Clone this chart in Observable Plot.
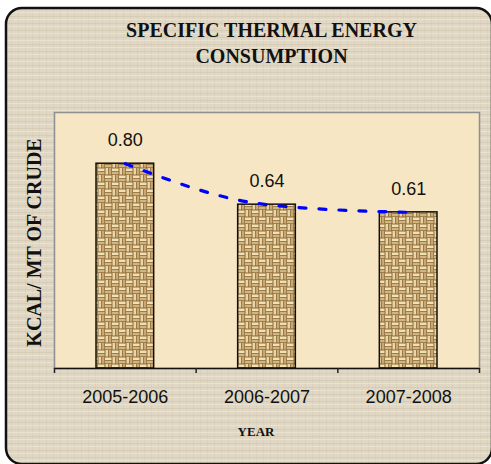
<!DOCTYPE html>
<html>
<head>
<meta charset="utf-8">
<script src="https://cdn.jsdelivr.net/npm/d3@7"></script>
<script src="https://cdn.jsdelivr.net/npm/@observablehq/plot@0.6"></script>
<style>
  body { margin: 0; background: #ffffff; }
</style>
</head>
<body>
<div id="chart"></div>
<script>
const years = ["2005-2006", "2006-2007", "2007-2008"];
const values = [0.80, 0.64, 0.61];
const titleLines = ["SPECIFIC THERMAL ENERGY", "CONSUMPTION"];
const yLabel = "KCAL/ MT OF CRUDE";
const xLabel = "YEAR";

const data = years.map((year, i) => ({i, year, value: values[i]}));

const serif = "'Liberation Serif', 'DejaVu Serif', serif";
const sans = "'Liberation Sans', Arial, sans-serif";

const chart = Plot.plot({
  width: 491,
  height: 464,
  marginTop: 112,
  marginBottom: 96,
  marginLeft: 54,
  marginRight: 12,
  style: {background: "transparent", overflow: "visible"},
  x: {type: "linear", domain: [0, 3], axis: null},
  y: {domain: [0, 1], axis: null},
  marks: [
    Plot.frame({fill: "#f6e6c3", stroke: "#8f8f8f", strokeWidth: 1.5}),
    Plot.rectY(data, {
      x1: d => d.i, x2: d => d.i + 1, y: "value",
      insetLeft: 42, insetRight: 42,
      fill: "url(#weave)", stroke: "#151008", strokeWidth: 1.5
    }),
    Plot.line(data, {
      x: d => d.i + 0.5, y: "value", curve: "monotone-x",
      stroke: "#0000ff", strokeWidth: 3.2, strokeDasharray: "7,13"
    }),
    Plot.text(data, {
      x: d => d.i + 0.5, y: "value", text: d => d.value.toFixed(2),
      dy: -23, fontSize: 18, fontFamily: sans, fill: "#111"
    }),
    Plot.ruleY([0], {stroke: "#111", strokeWidth: 1.5}),
    Plot.axisX({ticks: [0, 1, 2, 3], tickSize: 5, tickFormat: () => "", stroke: "#222", strokeWidth: 1.5}),
    Plot.text(data, {
      x: d => d.i + 0.5, text: "year", frameAnchor: "bottom",
      dy: 29, lineAnchor: "middle", fontSize: 18, fontFamily: sans, fill: "#111"
    }),
    Plot.text([titleLines[0]], {
      frameAnchor: "top", lineAnchor: "middle", dx: 4.5, dy: -82,
      fontSize: 20, fontWeight: "bold", fontFamily: serif, fill: "#111"
    }),
    Plot.text([titleLines[1]], {
      frameAnchor: "top", lineAnchor: "middle", dx: 4.5, dy: -56,
      fontSize: 20, fontWeight: "bold", fontFamily: serif, fill: "#111"
    }),
    Plot.text([yLabel], {
      frameAnchor: "left", textAnchor: "middle", lineAnchor: "middle",
      rotate: -90, dx: -19.5, dy: 2,
      fontSize: 20, fontWeight: "bold", fontFamily: serif, fill: "#111",
      letterSpacing: 1
    }),
    Plot.text([xLabel], {
      frameAnchor: "bottom", lineAnchor: "middle", dx: -11, dy: 63,
      fontSize: 13, fontWeight: "bold", fontFamily: serif, fill: "#111",
      letterSpacing: 2
    })
  ]
});

// decorative background, frame and texture patterns
const svg = d3.select(chart);
const defs = svg.insert("defs", ":first-child");

const weave = defs.append("pattern")
  .attr("id", "weave").attr("patternUnits", "userSpaceOnUse")
  .attr("width", 14).attr("height", 14);
weave.append("rect").attr("width", 14).attr("height", 14).attr("fill", "#8c6a38");
// top-left & bottom-right quadrants: horizontal strands
[[0, 0], [7, 7]].forEach(([ox, oy]) => {
  weave.append("rect").attr("x", ox).attr("y", oy + 0.5).attr("width", 6.5).attr("height", 2.6).attr("fill", "#efe0b6");
  weave.append("rect").attr("x", ox).attr("y", oy + 3.9).attr("width", 6.5).attr("height", 2.4).attr("fill", "#d2b47e");
});
// top-right & bottom-left quadrants: vertical strands
[[7, 0], [0, 7]].forEach(([ox, oy]) => {
  weave.append("rect").attr("x", ox + 0.5).attr("y", oy).attr("width", 2.6).attr("height", 6.5).attr("fill", "#e8d5a8");
  weave.append("rect").attr("x", ox + 3.9).attr("y", oy).attr("width", 2.4).attr("height", 6.5).attr("fill", "#c9a872");
});

const linen = defs.append("pattern")
  .attr("id", "linen").attr("patternUnits", "userSpaceOnUse")
  .attr("width", 7).attr("height", 7);
linen.append("rect").attr("width", 7).attr("height", 7).attr("fill", "#e0d8c4");
linen.append("rect").attr("x", 0).attr("y", 2).attr("width", 7).attr("height", 1).attr("fill", "#d3c9b3").attr("opacity", 0.7);
linen.append("rect").attr("x", 4).attr("y", 0).attr("width", 1).attr("height", 7).attr("fill", "#d6ccb6").attr("opacity", 0.6);
linen.append("rect").attr("x", 0).attr("y", 5).attr("width", 7).attr("height", 1).attr("fill", "#ebe5d5").attr("opacity", 0.8);

svg.insert("rect", "defs + *")
  .attr("x", 6).attr("y", 8).attr("width", 486).attr("height", 456)
  .attr("rx", 16).attr("ry", 16)
  .attr("fill", "url(#linen)").attr("stroke", "#111").attr("stroke-width", 2.5);

document.getElementById("chart").append(chart);
</script>
</body>
</html>
